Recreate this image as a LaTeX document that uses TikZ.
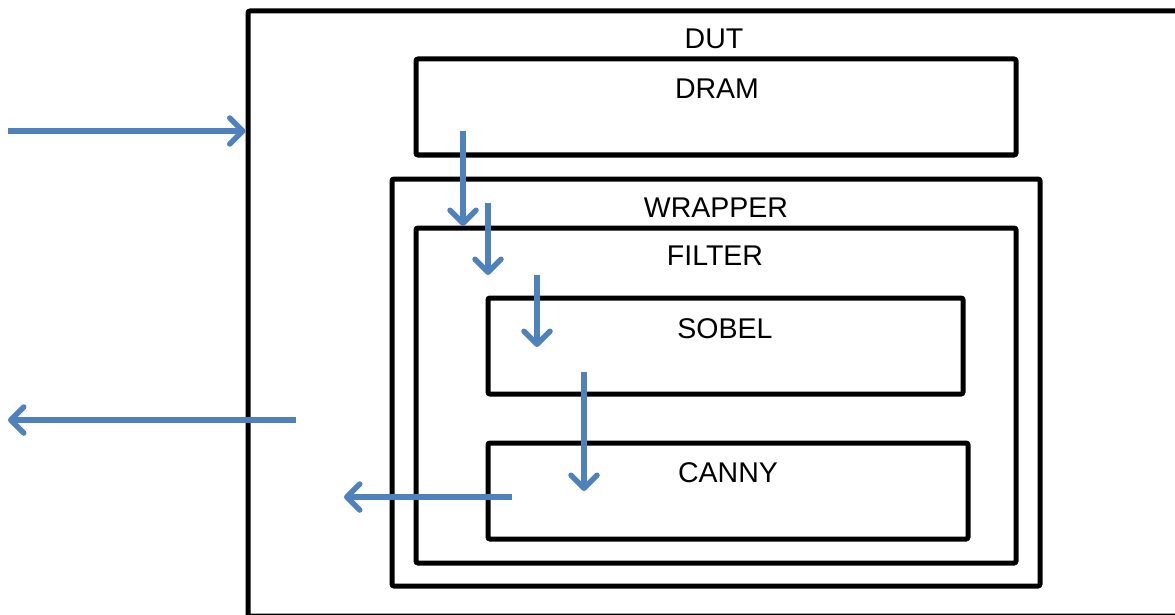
\documentclass[tikz,border=0pt]{standalone}
\usepackage{fontspec}
\setmainfont{Liberation Sans}
\usepackage{xcolor}
\usepackage{tikz}
\usetikzlibrary{arrows.meta, fit}

\definecolor{flowblue}{HTML}{4F81BD}

\begin{document}
\begin{tikzpicture}[
    x=1pt, y=-1pt,
    box/.style={draw, line width=5pt, rounded corners=2pt, inner sep=0pt},
    title/.style={font=\fontsize{28.5}{34}\selectfont, inner sep=0pt},
    flow/.style={-{Straight Barb[length=13pt, width=26pt, round]}, line width=5.5pt, flowblue},
  ]

  \useasboundingbox (0,0) rectangle (1175,615);
  \clip (0,0) rectangle (1175,615);

  % Device under test, runs past the page edge
  \node[box, fit={(248,11) (1190,616)}] (dut) {};
  \node[title] (dutlbl) at (714,39) {DUT};

  % Memory
  \node[box, fit={(416,59) (1016,155)}] (dram) {};
  \node[title] (dramlbl) at (717,89) {DRAM};

  % Wrapper and filter
  \node[box, fit={(392,179) (1040,586)}] (wrap) {};
  \node[title] (wraplbl) at (716,208) {WRAPPER};
  \node[box, fit={(416,228) (1016,563)}] (filt) {};
  \node[title] (filtlbl) at (715,256) {FILTER};

  % Filter stages
  \node[box, fit={(488,298) (963,394)}] (sobel) {};
  \node[title] (sobellbl) at (725,329) {SOBEL};
  \node[box, fit={(488,443) (968,539)}] (canny) {};
  \node[title] (cannylbl) at (728,473) {CANNY};

  % Free ends of the data flow
  \coordinate (inA) at (8,131);
  \coordinate (outB) at (8,420);
  \coordinate (outA) at (296,420);
  \coordinate (d1s) at (463,131);
  \coordinate (d1e) at (463,226);
  \coordinate (d2s) at (488,203);
  \coordinate (d2e) at (488,275);
  \coordinate (d3s) at (537,275);
  \coordinate (d3e) at (537,347);
  \coordinate (d4s) at (584,372);
  \coordinate (d4e) at (584,491);
  \coordinate (r1s) at (512,497);
  \coordinate (r1e) at (344,497);

  % Data flow
  \draw[flow] (inA) -- (inA -| dut.west);
  \draw[flow] (outA) -- (outB);
  \draw[flow] (d1s) -- (d1e);
  \draw[flow] (d2s) -- (d2e);
  \draw[flow] (d3s) -- (d3e);
  \draw[flow] (d4s) -- (d4e);
  \draw[flow] (r1s) -- (r1e);

\end{tikzpicture}
\end{document}
